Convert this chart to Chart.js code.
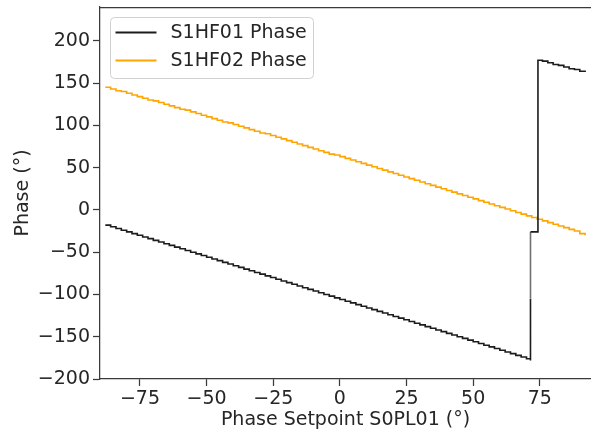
<!DOCTYPE html>
<html>
<head>
<meta charset="utf-8">
<script src="https://cdn.jsdelivr.net/npm/chart.js@4.4.1/dist/chart.umd.min.js"></script>
<style>
  html, body { margin: 0; padding: 0; background: #fff; }
</style>
</head>
<body>
<canvas id="phaseChart" width="591" height="432"></canvas>
<script>
/* ================= DATA ================= */

const s1Setpoint = [
  -88, -86, -84, -82, -80, -78, -76, -74, -72, -70, -68, -66, -64, -62, -60, -58,
  -56, -54, -52, -50, -48, -46, -44, -42, -40, -38, -36, -34, -32, -30, -28, -26,
  -24, -22, -20, -18, -16, -14, -12, -10, -8, -6, -4, -2, 0, 2, 4, 6,
  8, 10, 12, 14, 16, 18, 20, 22, 24, 26, 28, 30, 32, 34, 36, 38,
  40, 42, 44, 46, 48, 50, 52, 54, 56, 58, 60, 62, 64, 66, 68, 70,
  71.5, 71.5, 71.5, 74.3, 76, 78, 80, 82, 84, 86, 88, 90, 92
];
const s1Phase = [
  -18, -20, -22, -24, -26, -28, -30, -32, -34, -36, -38, -40, -42, -44, -46, -48,
  -50, -52, -54, -56, -58, -60, -62, -64, -66, -68, -70, -72, -74, -76, -78, -80,
  -82, -84, -86, -88, -90, -92, -94, -96, -98, -100, -102, -104, -106, -108, -110, -112,
  -114, -116, -118, -120, -122, -124, -126, -128, -130, -132, -134, -136, -138, -140, -142, -144,
  -146, -148, -150, -152, -154, -156, -158, -160, -162, -164, -166, -168, -170, -172, -174, -176,
  -178, -105, -26, 177, 176, 174, 172, 171, 169, 167, 166, 164, 163
];

const s2Setpoint = [
  -88, -86, -84, -82, -80, -78, -76, -74, -72, -70, -68, -66, -64, -62, -60, -58,
  -56, -54, -52, -50, -48, -46, -44, -42, -40, -38, -36, -34, -32, -30, -28, -26,
  -24, -22, -20, -18, -16, -14, -12, -10, -8, -6, -4, -2, 0, 2, 4, 6,
  8, 10, 12, 14, 16, 18, 20, 22, 24, 26, 28, 30, 32, 34, 36, 38,
  40, 42, 44, 46, 48, 50, 52, 54, 56, 58, 60, 62, 64, 66, 68, 70,
  72, 74, 76, 78, 80, 82, 84, 86, 88, 90, 92
];
const s2Phase = [
  145, 143, 141, 140, 138, 136, 134, 132, 130, 129, 127, 125, 123, 121, 119, 118,
  116, 114, 112, 110, 108, 106, 104, 103, 101, 99, 97, 95, 93, 91, 90, 88,
  86, 84, 82, 80, 78, 76, 74, 72, 70, 68, 66, 65, 63, 61, 59, 57,
  55, 53, 51, 49, 47, 45, 43, 41, 39, 37, 35, 33, 31, 29, 27, 25,
  23, 21, 19, 17, 15, 13, 11, 9, 7, 5, 3, 1, -1, -3, -5, -7,
  -9, -11, -13, -15, -17, -19, -21, -23, -25, -28, -30
];

const xTicks = [-75, -50, -25, 0, 25, 50, 75];
const yTicks = [-200, -150, -100, -50, 0, 50, 100, 150, 200];

const seriesLabels = ["S1HF01 Phase", "S1HF02 Phase"];

/* ================= STYLE ================= */

const TEXT = "#262626";
const SPINE = "#3a3a3a";
const FONT = { family: "'DejaVu Sans', sans-serif", size: 19 };

const minusSign = v => String(v).replace("-", "\u2212");

function toPoints(xs, ys) {
  return xs.map((x, i) => ({ x, y: ys[i] }));
}

// top spine + matplotlib-like legend box in upper left
const frameAndLegend = {
  id: "frameAndLegend",
  afterDraw(chart) {
    const { ctx, chartArea } = chart;
    ctx.save();
    ctx.strokeStyle = SPINE;
    ctx.lineWidth = 1.25;
    ctx.beginPath();
    ctx.moveTo(chartArea.left, chartArea.top + 0.5);
    ctx.lineTo(chartArea.right, chartArea.top + 0.5);
    ctx.stroke();

    const bx = chartArea.left + 10.5;
    const by = chartArea.top + 10.5;
    ctx.beginPath();
    ctx.roundRect(bx, by, 203, 61, 4);
    ctx.fillStyle = "rgba(255,255,255,0.85)";
    ctx.fill();
    ctx.strokeStyle = "#d0d0d0";
    ctx.lineWidth = 1;
    ctx.stroke();

    ctx.font = "19px 'DejaVu Sans', sans-serif";
    ctx.textBaseline = "middle";
    ctx.textAlign = "left";
    chart.data.datasets.forEach((ds, i) => {
      const yy = by + 15 + i * 28;
      ctx.strokeStyle = ds.borderColor;
      ctx.lineWidth = 2;
      ctx.beginPath();
      ctx.moveTo(bx + 5, yy);
      ctx.lineTo(bx + 46, yy);
      ctx.stroke();
      ctx.fillStyle = TEXT;
      ctx.fillText(ds.label, bx + 60, yy + 1);
    });
    ctx.restore();
  }
};

/* ================= CHART ================= */

const canvas = document.getElementById("phaseChart");

new Chart(canvas, {
  type: "line",
  data: {
    datasets: [
      {
        label: seriesLabels[0],
        data: toPoints(s1Setpoint, s1Phase),
        borderColor: "#1c1c1c",
        borderWidth: 1.6,
        pointRadius: 0,
        stepped: "before",
        segment: {
          borderColor: c => (c.p0.parsed.y === -105 ? "#707070" : undefined)
        }
      },
      {
        label: seriesLabels[1],
        data: toPoints(s2Setpoint, s2Phase),
        borderColor: "#ffa500",
        borderWidth: 1.6,
        pointRadius: 0,
        stepped: "before"
      }
    ]
  },
  options: {
    responsive: false,
    animation: false,
    layout: { padding: { top: 7, left: 0, right: 0, bottom: 0 } },
    plugins: {
      legend: { display: false },
      tooltip: { enabled: false }
    },
    scales: {
      x: {
        type: "linear",
        min: -90,
        max: 94.2,
        afterBuildTicks: s => { s.ticks = xTicks.map(v => ({ value: v })); },
        afterFit: s => { s.height = 53; s.paddingLeft = 0; s.paddingRight = 0; },
        border: { display: true, color: SPINE, width: 1.25 },
        grid: { drawOnChartArea: false, drawTicks: true, tickLength: 7, tickColor: SPINE, tickWidth: 1.25 },
        ticks: { color: TEXT, font: FONT, padding: 2, maxRotation: 0, callback: minusSign },
        title: {
          display: true,
          text: "Phase Setpoint S0PL01 (°)",
          color: TEXT,
          font: FONT,
          padding: { top: 0, bottom: 1 }
        }
      },
      y: {
        type: "linear",
        min: -200,
        max: 240,
        afterBuildTicks: s => { s.ticks = yTicks.map(v => ({ value: v })); },
        afterFit: s => { s.width = 100; s.paddingTop = 0; s.paddingBottom = 0; },
        border: { display: true, color: SPINE, width: 1.25 },
        grid: { drawOnChartArea: false, drawTicks: true, tickLength: 7, tickColor: SPINE, tickWidth: 1.25 },
        ticks: { color: TEXT, font: FONT, padding: 3, callback: minusSign },
        title: {
          display: true,
          text: "Phase (°)",
          color: TEXT,
          font: FONT,
          padding: { top: 12, bottom: 0 }
        }
      }
    }
  },
  plugins: [frameAndLegend]
});
</script>
</body>
</html>
